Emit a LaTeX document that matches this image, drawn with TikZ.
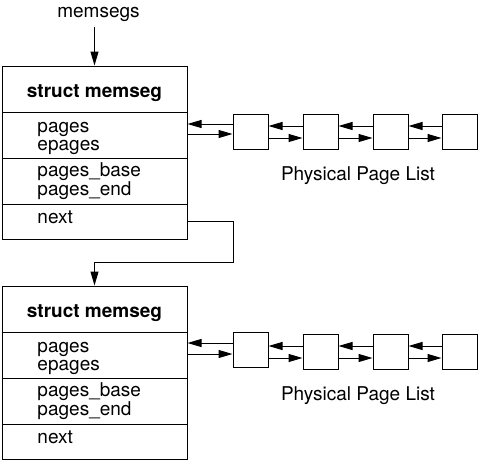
\documentclass[tikz,border=0pt]{standalone}
\usepackage{fontspec}
\setmainfont{TeX Gyre Heros}
\usetikzlibrary{arrows.meta}
\begin{document}
\begin{tikzpicture}[x=1pt,y=-1pt,line width=1pt,
  cell/.style={draw,rectangle,inner sep=0pt,minimum width=185pt},
  pagebox/.style={draw,rectangle,inner sep=0pt,minimum width=35pt,minimum height=35pt},
  txt/.style={inner sep=0pt,font=\fontsize{19}{20}\selectfont},
  arr/.style={-{Triangle[length=14pt,width=8pt]}}]
\useasboundingbox (0,0) rectangle (480,463);
% top label
\node[txt,anchor=base] (lbl) at (98.5,17) {memsegs};
\coordinate (ms) at (94.5,27);
% first struct
\node[cell,minimum height=46pt] (t1) at (94.5,89) {};
\node[cell,minimum height=46pt] (p1) at (94.5,135) {};
\node[cell,minimum height=46pt] (q1) at (94.5,181) {};
\node[cell,minimum height=35pt] (n1) at (94.5,221.5) {};
\node[txt,anchor=base] at (94.5,97) {\bfseries struct memseg};
\node[txt,anchor=base west] at (37,132) {pages};
\node[txt,anchor=base west] at (37,150) {epages};
\node[txt,anchor=base west] at (37,176) {pages\_base};
\node[txt,anchor=base west] at (37,195) {pages\_end};
\node[txt,anchor=base west] at (37,223) {next};
% second struct
\node[cell,minimum height=46pt] (t2) at (94.5,309) {};
\node[cell,minimum height=46pt] (p2) at (94.5,355) {};
\node[cell,minimum height=46pt] (q2) at (94.5,401) {};
\node[cell,minimum height=35pt] (n2) at (94.5,441.5) {};
\node[txt,anchor=base] at (94.5,317) {\bfseries struct memseg};
\node[txt,anchor=base west] at (37,352) {pages};
\node[txt,anchor=base west] at (37,370) {epages};
\node[txt,anchor=base west] at (37,396) {pages\_base};
\node[txt,anchor=base west] at (37,415) {pages\_end};
\node[txt,anchor=base west] at (37,443) {next};
% connectors between structs
\draw[arr] (ms) -- (t1.north);
\coordinate (k) at (233,262);
\draw[arr] (n1.east) -| (k) -| (t2.north);
% top page list
\node[pagebox] (a1) at (250.5,131.5) {};
\node[pagebox] (a2) at (320.5,132) {};
\node[pagebox] (a3) at (390.5,132) {};
\node[pagebox] (a4) at (459.5,132) {};
\draw[arr] (a1.west |- 0,124) -- (p1.east |- 0,124);
\draw[arr] (p1.east |- 0,134) -- (a1.west |- 0,134);
\draw[arr] (a2.west |- 0,126) -- (a1.east |- 0,126);
\draw[arr] (a1.east |- 0,138) -- (a2.west |- 0,138);
\draw[arr] (a3.west |- 0,126) -- (a2.east |- 0,126);
\draw[arr] (a2.east |- 0,138) -- (a3.west |- 0,138);
\draw[arr] (a4.west |- 0,126) -- (a3.east |- 0,126);
\draw[arr] (a3.east |- 0,138) -- (a4.west |- 0,138);
\node[txt,anchor=base] at (358,180) {Physical Page List};
% bottom page list
\node[pagebox] (c1) at (250.5,349.5) {};
\node[pagebox] (c2) at (320.5,351.5) {};
\node[pagebox] (c3) at (390.5,351.5) {};
\node[pagebox] (c4) at (459.5,351.5) {};
\draw[arr] (c1.west |- 0,343) -- (p2.east |- 0,343);
\draw[arr] (p2.east |- 0,354) -- (c1.west |- 0,354);
\draw[arr] (c2.west |- 0,346) -- (c1.east |- 0,346);
\draw[arr] (c1.east |- 0,358) -- (c2.west |- 0,358);
\draw[arr] (c3.west |- 0,346) -- (c2.east |- 0,346);
\draw[arr] (c2.east |- 0,358) -- (c3.west |- 0,358);
\draw[arr] (c4.west |- 0,346) -- (c3.east |- 0,346);
\draw[arr] (c3.east |- 0,358) -- (c4.west |- 0,358);
\node[txt,anchor=base] at (358,400) {Physical Page List};
\end{tikzpicture}
\end{document}
